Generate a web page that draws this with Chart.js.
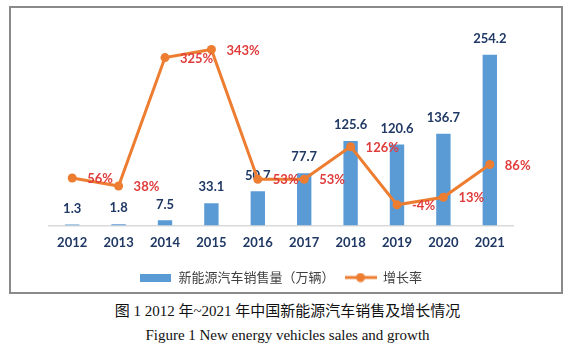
<!DOCTYPE html>
<html>
<head>
<meta charset="utf-8">
<script src="https://cdn.jsdelivr.net/npm/chart.js@4.4.1/dist/chart.umd.min.js"></script>
<style>
  html, body { margin: 0; padding: 0; background: #fff; }
  body { width: 575px; height: 343px; position: relative; overflow: hidden; }
  #wrap { position: absolute; left: 0; top: 0; width: 575px; height: 300px; }
  #box { position: absolute; left: 9px; top: 6px; width: 554px; height: 288px; box-sizing: border-box; border: 2px solid #8a8a8a; pointer-events: none; }
  .cap { position: absolute; left: 0; width: 575px; text-align: center; color: #111;
         font-family: "Liberation Serif", "Noto Sans CJK SC", serif; font-size: 15px; line-height: 17px; white-space: nowrap; }
  #cap1 { top: 303px; }
  #cap2 { top: 327px; }
</style>
</head>
<body>
<div id="wrap"><canvas id="c" width="575" height="300"></canvas></div>
<div id="box"></div>
<div class="cap" id="cap1">图 1 2012 年~2021 年中国新能源汽车销售及增长情况</div>
<div class="cap" id="cap2">Figure 1 New energy vehicles sales and growth</div>
<script>
const years = ['2012','2013','2014','2015','2016','2017','2018','2019','2020','2021'];
const sales = [1.3, 1.8, 7.5, 33.1, 50.7, 77.7, 125.6, 120.6, 136.7, 254.2];
const growth = [56, 38, 325, 343, 53, 53, 126, -4, 13, 86];
const seriesNames = ['新能源汽车销售量（万辆）', '增长率'];

const BLUE = '#5B9BD5';
const ORANGE = '#ED7D31';
const NAVY = '#1F3864';
const RED = '#E03C3C';

function makeBarIcon() {
  const c = document.createElement('canvas');
  c.width = 31; c.height = 8;
  const x = c.getContext('2d');
  x.fillStyle = BLUE; x.fillRect(0, 0, 31, 8);
  return c;
}
function makeLineIcon() {
  const c = document.createElement('canvas');
  c.width = 32; c.height = 10;
  const x = c.getContext('2d');
  x.strokeStyle = ORANGE; x.lineWidth = 3;
  x.beginPath(); x.moveTo(0, 5); x.lineTo(32, 5); x.stroke();
  x.fillStyle = ORANGE; x.beginPath(); x.arc(16, 5, 4.5, 0, Math.PI * 2); x.fill();
  return c;
}
const barIcon = makeBarIcon();
const lineIcon = makeLineIcon();

const labelPlugin = {
  id: 'valueLabels',
  afterDatasetDraw(chart, args) {
    const ctx = chart.ctx;
    const meta = args.meta;
    ctx.save();
    ctx.font = 'bold 13px Lato, "Open Sans", sans-serif';
    if (args.index === 0) {
      ctx.fillStyle = NAVY;
      ctx.textAlign = 'center';
      ctx.textBaseline = 'middle';
      meta.data.forEach((el, i) => {
        ctx.fillText(String(sales[i]), el.x, el.y - 16);
      });
    } else if (args.index === 1) {
      ctx.fillStyle = RED;
      ctx.textAlign = 'left';
      ctx.textBaseline = 'middle';
      meta.data.forEach((el, i) => {
        ctx.fillText(growth[i] + '%', el.x + 15, el.y + 1);
      });
    }
    ctx.restore();
  }
};

new Chart(document.getElementById('c'), {
  type: 'bar',
  data: {
    labels: years,
    datasets: [
      {
        type: 'bar',
        label: seriesNames[0],
        data: sales,
        backgroundColor: BLUE,
        borderWidth: 0,
        barPercentage: 0.31,
        categoryPercentage: 1.0,
        yAxisID: 'y',
        order: 2
      },
      {
        type: 'line',
        label: seriesNames[1],
        data: growth,
        borderColor: ORANGE,
        backgroundColor: ORANGE,
        borderWidth: 3,
        pointRadius: 4.5,
        pointBackgroundColor: ORANGE,
        pointBorderWidth: 0,
        tension: 0,
        yAxisID: 'y1',
        order: 1
      }
    ]
  },
  options: {
    responsive: false,
    animation: false,
    devicePixelRatio: 1,
    layout: { padding: { left: 49, right: 62, top: 24, bottom: 6 } },
    plugins: {
      tooltip: { enabled: false },
      legend: {
        position: 'bottom',
        labels: {
          usePointStyle: true,
          pointStyleWidth: 32,
          boxHeight: 8,
          padding: 10,
          color: '#404040',
          font: { family: '"Noto Sans CJK SC", sans-serif', size: 13 },
          generateLabels() {
            return [
              { text: seriesNames[0], pointStyle: barIcon, datasetIndex: 0, fontColor: '#404040', lineWidth: 0, hidden: false },
              { text: seriesNames[1], pointStyle: lineIcon, datasetIndex: 1, fontColor: '#404040', lineWidth: 0, hidden: false }
            ];
          }
        }
      }
    },
    scales: {
      x: {
        grid: { display: false, drawTicks: false },
        border: { display: true, color: '#D9D9D9', width: 1.5 },
        ticks: { color: NAVY, padding: 10, font: { family: 'Lato, sans-serif', size: 13, weight: 'bold' } }
      },
      y: { display: false, min: 0, max: 300 },
      y1: { display: false, min: -50, max: 400, position: 'right' }
    }
  },
  plugins: [labelPlugin]
});
</script>
</body>
</html>
